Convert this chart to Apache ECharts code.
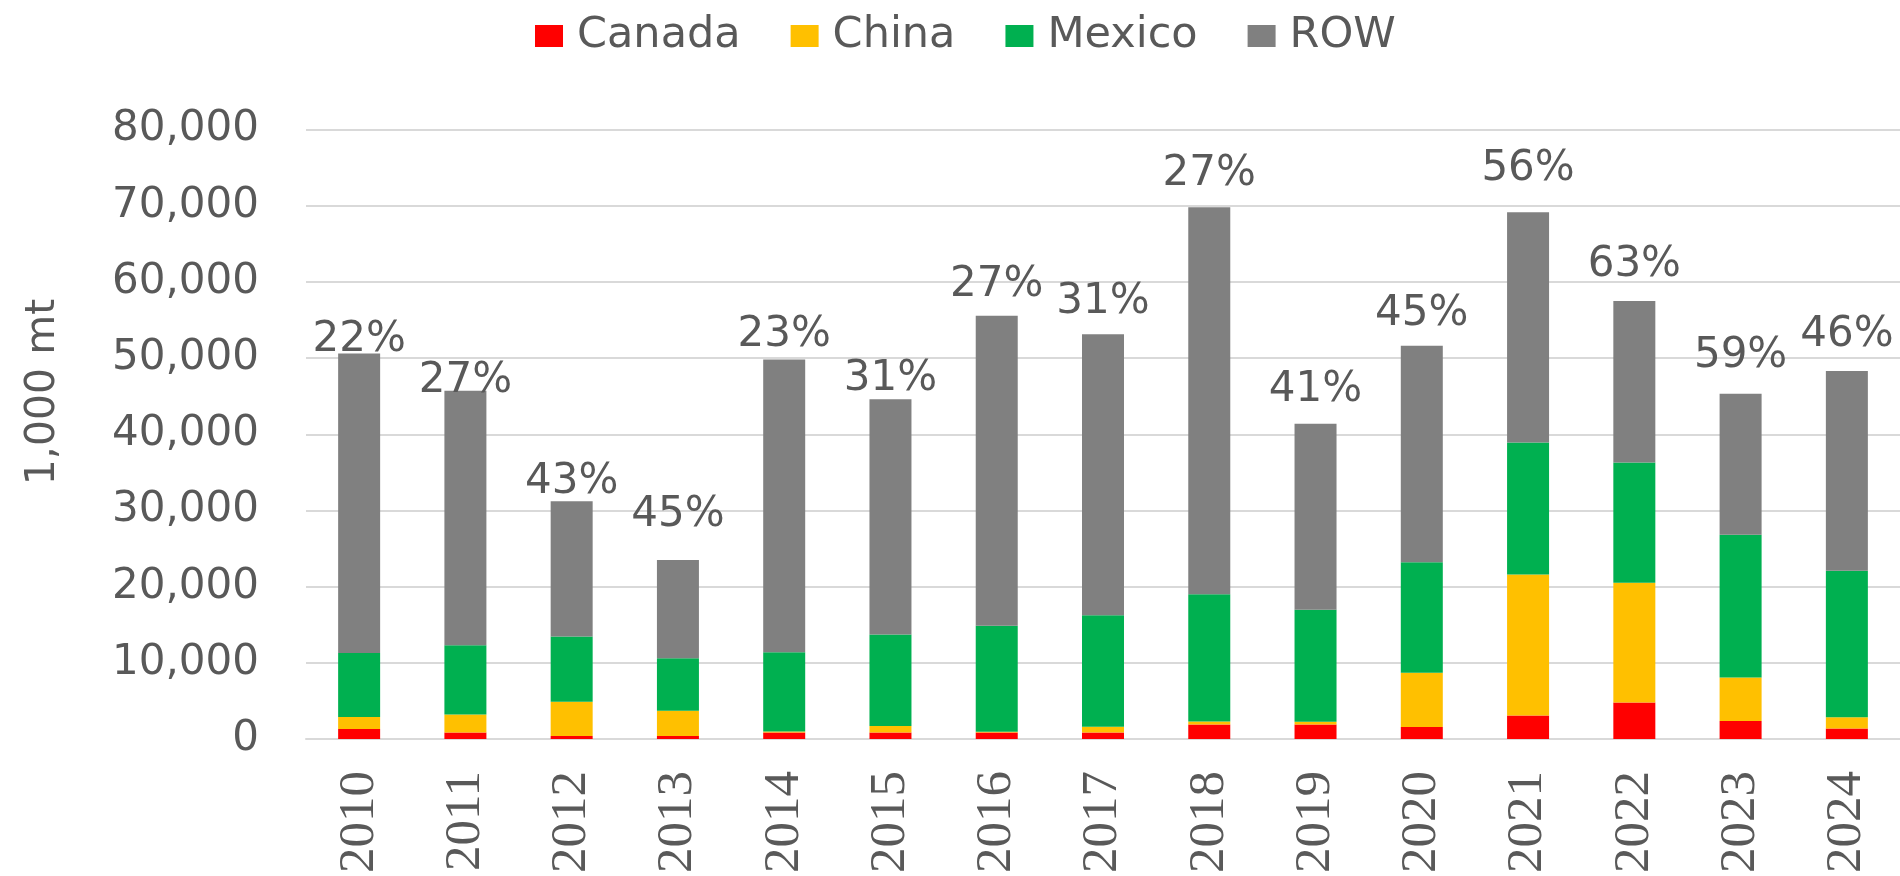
<!DOCTYPE html>
<html>
<head>
<meta charset="utf-8">
<script src="https://cdn.jsdelivr.net/npm/echarts@6/dist/echarts.min.js"></script>
<style>
  html, body { margin: 0; padding: 0; background: #ffffff; }
  #chart { width: 1900px; height: 876px; }
</style>
</head>
<body>
<div id="chart"></div>
<script>
// Imports by origin, 1,000 mt
const years = ['2010', '2011', '2012', '2013', '2014', '2015', '2016', '2017',
               '2018', '2019', '2020', '2021', '2022', '2023', '2024'];
const canada = [1300, 850, 400, 400, 850, 850, 850, 850, 1900, 1900, 1580, 3080, 4790, 2360, 1380];
const china  = [1600, 2350, 4500, 3300, 150, 850, 100, 750, 400, 350, 7100, 18500, 15720, 5710, 1490];
const mexico = [8400, 9100, 8550, 6900, 10400, 12000, 13920, 14640, 16700, 14720, 14520, 17350, 15790, 18730, 19230];
const row    = [39300, 33400, 17750, 12900, 38400, 30900, 40700, 36900, 50800, 24400, 28400, 30200, 21200, 18500, 26200];
const yMin = 0, yMax = 80000, yStep = 10000;

// Share of Canada + China + Mexico in each year's total, printed above the bars
const shares = years.map((_, i) => {
  const three = canada[i] + china[i] + mexico[i];
  return Math.round(100 * three / (three + row[i])) + '%';
});

// Spacing between each bar top and its share label
const labelGap = [-8, -11, -2, 24, 3, -1, 10, 11, 12, 13, 11, 22, 15, 17, 15];

const textColor = '#595959';
const font = 'DejaVu Sans';

const chart = echarts.init(document.getElementById('chart'), null, { renderer: 'canvas' });

function barSeries(name, values, color) {
  return {
    name: name,
    type: 'bar',
    stack: 'total',
    barWidth: 42,
    itemStyle: { color: color },
    emphasis: { disabled: true },
    data: values
  };
}

const rowSeries = barSeries('ROW', row.map((v, i) => ({
  value: v,
  label: { distance: labelGap[i] }
})), '#808080');
rowSeries.label = {
  show: true,
  position: 'top',
  fontFamily: font,
  fontSize: 42,
  color: textColor,
  formatter: p => shares[p.dataIndex]
};

chart.setOption({
  animation: false,
  backgroundColor: '#ffffff',
  textStyle: { fontFamily: font },
  legend: {
    top: 9,
    left: 530,
    itemWidth: 28,
    itemHeight: 22,
    itemGap: 50,
    icon: 'rect',
    textStyle: {
      fontFamily: font,
      fontSize: 43,
      color: textColor,
      lineHeight: 44,
      padding: [0, 0, 0, 9]
    },
    data: ['Canada', 'China', 'Mexico', 'ROW']
  },
  grid: { left: 306, right: -2, top: 129.5, bottom: 125, containLabel: false },
  xAxis: {
    type: 'category',
    data: years,
    axisTick: { show: false },
    axisLine: { show: true, lineStyle: { color: '#d9d9d9', width: 2 } },
    axisLabel: {
      rotate: 90,
      margin: 32,
      fontFamily: 'Liberation Sans Narrow',
      fontSize: 51,
      color: textColor
    }
  },
  yAxis: {
    type: 'value',
    min: yMin,
    max: yMax,
    interval: yStep,
    axisLine: { show: false },
    axisTick: { show: false },
    splitLine: { lineStyle: { color: '#d9d9d9', width: 2 } },
    axisLabel: {
      margin: 47,
      fontFamily: font,
      fontSize: 42,
      color: textColor
    }
  },
  graphic: [{
    type: 'text',
    x: 43,
    y: 392,
    rotation: Math.PI / 2,
    style: {
      text: '1,000 mt',
      fontFamily: font,
      fontSize: 41,
      fill: textColor,
      textAlign: 'center',
      textVerticalAlign: 'middle'
    }
  }],
  series: [
    barSeries('Canada', canada, '#ff0000'),
    barSeries('China', china, '#ffc000'),
    barSeries('Mexico', mexico, '#00b050'),
    rowSeries
  ]
});
</script>
</body>
</html>
